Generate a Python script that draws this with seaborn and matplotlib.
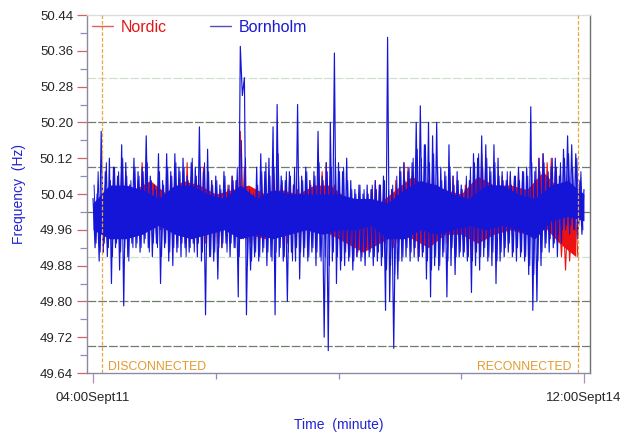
import numpy as np
import pandas as pd
import matplotlib
matplotlib.use("Agg")
import matplotlib.pyplot as plt
from matplotlib.lines import Line2D
import seaborn as sns

# ---------------- data ----------------
# Bornholm: alternating upper / lower excursions, 40-min grid, offset by 20 min
bornholm_hi = [
    50.03, 50.04, 50.18, 50.09, 50.12, 50.10, 50.08, 50.15, 50.11, 50.06,
    50.12, 50.09, 50.10, 50.17, 50.08, 50.06, 50.13, 50.07, 50.13, 50.09,
    50.13, 50.10, 50.12, 50.08, 50.11, 50.10, 50.19, 50.09, 50.14, 50.07,
    50.08, 50.06, 50.09, 50.05, 50.08, 50.07, 50.37, 50.30, 50.04, 50.03,
    50.10, 50.13, 50.09, 50.12, 50.19, 50.24, 50.08, 50.07, 50.09, 50.06,
    50.24, 50.08, 50.10, 50.07, 50.09, 50.18, 50.08, 50.11, 50.20, 50.355,
    50.11, 50.09, 50.12, 50.07, 50.05, 50.06, 50.04, 50.06, 50.05, 50.07,
    50.06, 50.08, 50.39, 50.05, 50.04, 50.10, 50.11, 50.09, 50.11, 50.20,
    50.237, 50.15, 50.20, 50.17, 50.20, 50.10, 50.09, 50.15, 50.08, 50.09,
    50.06, 50.05, 50.07, 50.13, 50.12, 50.17, 50.15, 50.10, 50.15, 50.12,
    50.09, 50.07, 50.09, 50.08, 50.10, 50.09, 50.10, 50.235, 50.09, 50.12,
    50.13, 50.08, 50.10, 50.12, 50.08, 50.14, 50.17, 50.15, 50.13, 50.07,
    50.05,
]
bornholm_lo = [
    49.92, 49.89, 49.91, 49.90, 49.84, 49.92, 49.87, 49.79, 49.90, 49.93,
    49.92, 49.91, 49.93, 49.92, 49.90, 49.93, 49.84, 49.92, 49.89, 49.88,
    49.91, 49.90, 49.92, 49.91, 49.93, 49.90, 49.89, 49.77, 49.90, 49.89,
    49.85, 49.92, 49.93, 49.90, 49.92, 49.81, 50.26, 49.77, 49.87, 49.90,
    49.89, 49.91, 49.88, 49.90, 49.77, 49.90, 49.89, 49.80, 49.91, 49.89,
    49.85, 49.90, 49.89, 49.91, 49.88, 49.90, 49.72, 49.69, 49.89, 49.84,
    49.87, 49.88, 49.89, 49.87, 49.90, 49.89, 49.88, 49.90, 49.88, 49.89,
    49.88, 49.78, 49.80, 49.695, 49.85, 49.89, 49.90, 49.89, 49.90, 49.89,
    49.90, 49.85, 49.81, 49.88, 49.87, 49.90, 49.81, 49.88, 49.86, 49.90,
    49.90, 49.89, 49.82, 49.88, 49.87, 49.90, 49.89, 49.88, 49.84, 49.89,
    49.90, 49.91, 49.90, 49.89, 49.90, 49.89, 49.86, 49.78, 49.80, 49.88,
    49.92, 49.91, 49.92, 49.90, 49.93, 49.96, 49.95, 49.96, 49.94, 49.95,
]
bornholm_hi_min = np.arange(0, 4801, 40)
bornholm_lo_min = np.arange(20, 4781, 40)

# Bornholm: the denser, smaller swings in between (10-min offset grid)
bornholm_fuzz_hi = [
    50.06, 50.09, 50.08, 50.11, 50.07, 50.10, 50.09, 50.12, 50.08, 50.07,
    50.10, 50.08, 50.09, 50.11, 50.07, 50.05, 50.09, 50.06, 50.10, 50.08,
    50.11, 50.09, 50.10, 50.07, 50.12, 50.08, 50.10, 50.11, 50.09, 50.06,
    50.07, 50.05, 50.08, 50.06, 50.07, 50.10, 50.16, 50.12, 50.05, 50.04,
    50.06, 50.09, 50.11, 50.08, 50.10, 50.13, 50.07, 50.09, 50.08, 50.10,
    50.08, 50.07, 50.09, 50.06, 50.08, 50.11, 50.07, 50.09, 50.10, 50.12,
    50.09, 50.10, 50.07, 50.05, 50.04, 50.06, 50.05, 50.04, 50.06, 50.05,
    50.06, 50.07, 50.05, 50.06, 50.08, 50.09, 50.07, 50.10, 50.12, 50.14,
    50.12, 50.15, 50.11, 50.13, 50.10, 50.07, 50.08, 50.10, 50.06, 50.07,
    50.05, 50.08, 50.10, 50.11, 50.13, 50.10, 50.12, 50.09, 50.11, 50.08,
    50.07, 50.09, 50.06, 50.08, 50.07, 50.09, 50.08, 50.11, 50.10, 50.09,
    50.11, 50.09, 50.12, 50.10, 50.11, 50.12, 50.13, 50.10, 50.12, 50.09,
]
bornholm_fuzz_lo = [
    49.93, 49.91, 49.93, 49.92, 49.90, 49.93, 49.91, 49.92, 49.89, 49.92,
    49.93, 49.92, 49.94, 49.91, 49.93, 49.92, 49.90, 49.93, 49.91, 49.92,
    49.92, 49.93, 49.90, 49.92, 49.91, 49.93, 49.91, 49.92, 49.90, 49.91,
    49.92, 49.93, 49.91, 49.93, 49.92, 49.90, 49.94, 49.88, 49.89, 49.91,
    49.90, 49.92, 49.91, 49.89, 49.91, 49.92, 49.90, 49.91, 49.89, 49.92,
    49.91, 49.92, 49.90, 49.92, 49.91, 49.89, 49.90, 49.88, 49.91, 49.90,
    49.89, 49.91, 49.90, 49.89, 49.91, 49.90, 49.92, 49.91, 49.90, 49.91,
    49.90, 49.87, 49.88, 49.86, 49.89, 49.90, 49.92, 49.91, 49.92, 49.90,
    49.91, 49.89, 49.87, 49.90, 49.88, 49.91, 49.89, 49.92, 49.90, 49.91,
    49.91, 49.90, 49.89, 49.91, 49.90, 49.92, 49.90, 49.91, 49.89, 49.91,
    49.92, 49.93, 49.91, 49.92, 49.91, 49.90, 49.88, 49.86, 49.89, 49.91,
    49.93, 49.94, 49.93, 49.95, 49.96, 49.97, 49.97, 49.96, 49.97, 49.96,
]
bornholm_fuzz_hi_min = np.arange(10, 4771, 40)
bornholm_fuzz_lo_min = np.arange(30, 4791, 40)

# Bornholm solid centre of the trace (upper / lower edge), 160-min grid
bornholm_core_hi = [50.02, 50.06, 50.06, 50.05, 50.03, 50.06, 50.06, 50.04, 50.03, 50.06,
                    50.03, 50.05, 50.04, 50.04, 50.04, 50.04, 50.03, 50.03, 50.02, 50.05,
                    50.07, 50.06, 50.04, 50.03, 50.06, 50.06, 50.04, 50.03, 50.06, 50.07,
                    50.04]
bornholm_core_lo = [49.96, 49.94, 49.94, 49.95, 49.97, 49.95, 49.94, 49.95, 49.96, 49.94,
                    49.95, 49.94, 49.95, 49.96, 49.95, 49.96, 49.96, 49.97, 49.94, 49.94,
                    49.96, 49.95, 49.96, 49.97, 49.96, 49.97, 49.96, 49.94, 49.98, 49.99,
                    49.98]
bornholm_core_min = np.arange(0, 4801, 160)

# Nordic: alternating upper / lower excursions, between the two events
nordic_hi = [
    50.04, 50.06, 50.05, 50.08, 50.07, 50.10, 50.09, 50.06, 50.05, 50.07,
    50.11, 50.09, 50.06, 50.04, 50.05, 50.03, 50.06, 50.08, 50.10, 50.07,
    50.09, 50.11, 50.08, 50.07, 50.06, 50.10, 50.08, 50.07, 50.05, 50.04,
    50.05, 50.06, 50.08, 50.07, 50.18, 50.10, 50.03, 50.02, 50.04, 50.05,
    50.06, 50.08, 50.10, 50.07, 50.06, 50.05, 50.07, 50.06, 50.05, 50.04,
    50.05, 50.07, 50.06, 50.08, 50.09, 50.11, 50.08, 50.06, 50.04, 50.05,
    50.02, 50.01, 50.03, 50.02, 50.00, 50.03, 50.05, 50.07, 50.06, 50.04,
    50.03, 50.05, 50.07, 50.09, 50.11, 50.10, 50.08, 50.04, 50.03, 50.05,
    50.07, 50.09, 50.06, 50.05, 50.07, 50.06, 50.08, 50.07, 50.05, 50.06,
    50.04, 50.05, 50.09, 50.13, 50.11, 50.08, 50.06, 50.07, 50.08, 50.06,
    50.08, 50.07, 50.09, 50.08, 50.06, 50.05, 50.07, 50.12, 50.13, 50.11,
    50.12, 50.09, 49.99, 49.98, 49.99, 49.97, 49.99,
]
nordic_lo = [
    49.91, 49.93, 49.95, 49.94, 49.96, 49.95, 49.93, 49.95, 49.96, 49.94,
    49.95, 49.96, 49.97, 49.95, 49.96, 49.95, 49.94, 49.92, 49.93, 49.94,
    49.93, 49.95, 49.94, 49.92, 49.94, 49.93, 49.95, 49.94, 49.93, 49.92,
    49.95, 49.94, 49.96, 49.97, 49.99, 49.94, 49.93, 49.92, 49.93, 49.95,
    49.93, 49.94, 49.95, 49.96, 49.94, 49.93, 49.95, 49.94, 49.93, 49.94,
    49.95, 49.94, 49.96, 49.95, 49.97, 49.96, 49.94, 49.93, 49.91, 49.92,
    49.90, 49.89, 49.90, 49.91, 49.92, 49.93, 49.92, 49.94, 49.95, 49.93,
    49.94, 49.92, 49.93, 49.95, 49.96, 49.94, 49.92, 49.90, 49.91, 49.92,
    49.93, 49.94, 49.95, 49.94, 49.93, 49.95, 49.96, 49.95, 49.94, 49.93,
    49.90, 49.91, 49.94, 49.96, 49.95, 49.93, 49.92, 49.94, 49.95, 49.96,
    49.95, 49.96, 49.94, 49.95, 49.93, 49.94, 49.96, 49.98, 49.97, 49.96,
    49.95, 49.93, 49.90, 49.87, 49.89, 49.91, 49.90,
]
nordic_hi_min = np.arange(80, 4721, 40)
nordic_lo_min = np.arange(100, 4741, 40)

# Nordic solid part of the trace (upper / lower edge), 160-min grid
nordic_core_hi = [50.02, 50.06, 50.05, 50.07, 50.04, 50.07, 50.06, 50.04, 50.05, 50.06,
                  50.04, 50.05, 50.04, 50.06, 50.06, 50.03, 50.01, 50.02, 50.05, 50.08,
                  50.05, 50.05, 50.04, 50.08, 50.06, 50.06, 50.05, 50.09, 50.05, 49.98]
nordic_core_lo = [49.95, 49.96, 49.96, 49.97, 49.97, 49.95, 49.95, 49.96, 49.97, 49.95,
                  49.94, 49.96, 49.96, 49.96, 49.95, 49.93, 49.91, 49.93, 49.95, 49.94,
                  49.92, 49.95, 49.95, 49.93, 49.95, 49.96, 49.95, 49.97, 49.93, 49.90]
nordic_core_min = np.arange(80, 4721, 160)

event_minutes = [88, 4741]
event_labels = ["DISCONNECTED", "RECONNECTED"]

ytick_values = [49.64, 49.72, 49.80, 49.88, 49.96, 50.04, 50.12, 50.20, 50.28, 50.36, 50.44]
xtick_minutes = [0, 4800]
xtick_labels = ["04:00Sept11", "12:00Sept14"]
xminor_minutes = [1200, 2400, 3600]
grid_dark = [49.70, 49.80, 50.00, 50.10, 50.20]
grid_light = [49.90, 50.30]

series_names = ["Nordic", "Bornholm"]
series_colors = {"Nordic": "#ee1111", "Bornholm": "#1515d8"}


def interleave(t_hi, v_hi, t_lo, v_lo):
    n = len(t_hi) + len(t_lo)
    t = np.empty(n)
    v = np.empty(n)
    t[0::2] = t_hi
    v[0::2] = v_hi
    t[1::2] = t_lo
    v[1::2] = v_lo
    return t, v


tn, vn = interleave(nordic_hi_min, nordic_hi, nordic_lo_min, nordic_lo)
tb, vb = interleave(bornholm_hi_min, bornholm_hi, bornholm_lo_min, bornholm_lo)
tf, vf = interleave(bornholm_fuzz_hi_min, bornholm_fuzz_hi,
                    bornholm_fuzz_lo_min, bornholm_fuzz_lo)
df_n = pd.DataFrame({"minute": tn, "freq": vn})
df_b = pd.DataFrame({"minute": tb, "freq": vb})
df_f = pd.DataFrame({"minute": tf, "freq": vf})

# ---------------- style ----------------
sns.set_style("white")
plt.rcParams["font.family"] = ["Liberation Sans", "DejaVu Sans"]

fig = plt.figure(figsize=(6.23, 4.34), dpi=100)
ax = fig.add_axes([87 / 623, 61 / 434, 503 / 623, 358 / 434])

# grid lines
for g in grid_dark:
    ax.axhline(g, color="#6f7d6c", lw=0.9, ls=(0, (7, 1.6)), zorder=1)
for g in grid_light:
    ax.axhline(g, color="#cfe0cf", lw=0.9, ls=(0, (7, 1.6)), zorder=1)

# Nordic
ax.fill_between(nordic_core_min, nordic_core_lo, nordic_core_hi,
                color=series_colors["Nordic"], lw=0, zorder=2)
sns.lineplot(data=df_n, x="minute", y="freq", color=series_colors["Nordic"],
             estimator=None, sort=False, linewidth=0.8, ax=ax, zorder=2.1)
# Bornholm
ax.fill_between(bornholm_core_min, bornholm_core_lo, bornholm_core_hi,
                color=series_colors["Bornholm"], lw=0, zorder=3)
sns.lineplot(data=df_f, x="minute", y="freq", color=series_colors["Bornholm"],
             estimator=None, sort=False, linewidth=0.7, ax=ax, zorder=3.05)
sns.lineplot(data=df_b, x="minute", y="freq", color=series_colors["Bornholm"],
             estimator=None, sort=False, linewidth=0.85, ax=ax, zorder=3.1)

# event lines and labels
for m in event_minutes:
    ax.axvline(m, color="#e8a740", lw=0.9, ls=(0, (3, 1.5)), zorder=4)
ax.text(event_minutes[0] + 55, 49.641, event_labels[0], color="#e39a2e",
        fontsize=8.8, ha="left", va="bottom", zorder=5)
ax.text(event_minutes[1] - 60, 49.641, event_labels[1], color="#e39a2e",
        fontsize=8.8, ha="right", va="bottom", zorder=5)

# axes
ax.set_xlim(-59, 4859)
ax.set_ylim(49.64, 50.44)
ax.set_yticks(ytick_values)
ax.set_yticklabels([f"{v:.2f}" for v in ytick_values])
ax.set_yticks([v + 0.04 for v in ytick_values[:-1]], minor=True)
ax.set_xticks(xtick_minutes)
ax.set_xticklabels(xtick_labels)
ax.set_xticks(xminor_minutes, minor=True)

ax.tick_params(axis="y", which="major", length=7, width=0.9, color="#d06464",
               labelsize=9.5, pad=3, direction="out", left=True)
ax.tick_params(axis="y", which="minor", length=5, width=0.9, color="#8c8cc4",
               direction="out", left=True)
ax.tick_params(axis="x", which="major", length=7, width=0.9, color="#b48cb4",
               labelsize=9.5, pad=7, direction="out", bottom=True)
ax.tick_params(axis="x", which="minor", length=4, width=0.9, color="#8c8cc4",
               direction="out", bottom=True)

ax.spines["top"].set_color("#dcdcdc")
ax.spines["right"].set_color("#707070")
ax.spines["left"].set_color("#8a8a9a")
ax.spines["bottom"].set_color("#8a8aa6")
for s in ax.spines.values():
    s.set_linewidth(1.0)

ax.set_xlabel("Time  (minute)", color="#2323d2", fontsize=10, labelpad=10)
ax.set_ylabel("Frequency  (Hz)", color="#2323d2", fontsize=10, labelpad=10)

handles = [Line2D([], [], color="#e06060", lw=1.0),
           Line2D([], [], color="#5050b8", lw=1.0)]
leg = ax.legend(handles, series_names, loc="upper left", bbox_to_anchor=(0.0, 1.0),
                ncol=2, frameon=False, fontsize=11.5, handlelength=1.3,
                handletextpad=0.5, columnspacing=2.7, borderaxespad=0.2,
                borderpad=0.1)
leg.get_texts()[0].set_color("#e01818")
leg.get_texts()[1].set_color("#1a1ad0")

fig.savefig("out.png", dpi=100)
